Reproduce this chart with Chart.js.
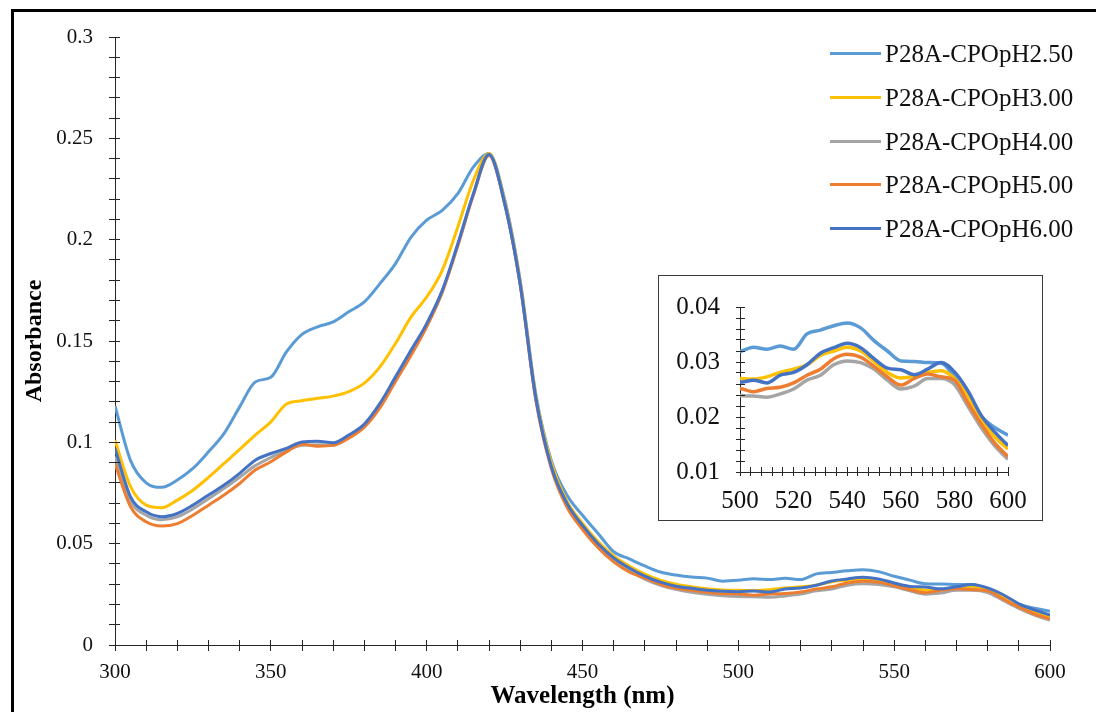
<!DOCTYPE html>
<html>
<head>
<meta charset="utf-8">
<script src="https://cdn.jsdelivr.net/npm/chart.js@4.4.0/dist/chart.umd.min.js"></script>
<style>
  html, body { margin: 0; padding: 0; background: #fff; }
  body { width: 1096px; height: 712px; position: relative; overflow: hidden;
         font-family: "Liberation Serif", "Times New Roman", serif; }
  #frame { position: absolute; left: 11px; top: 9px; width: 1200px; height: 800px;
           border-left: 3px solid #000; border-top: 3px solid #000; }
  #main { position: absolute; left: 0; top: 0; }
  #insetBox { position: absolute; left: 658px; top: 275px; width: 383px; height: 244px;
              border: 1px solid #3a3a3a; background: #fff; }
  #inset { position: absolute; left: 0; top: 0; }
  .row { position: absolute; left: 830px; height: 30px; line-height: 30px; font-size: 25px;
         color: #111; white-space: nowrap; }
  .row i { position: absolute; left: 0; top: 13px; width: 51px; height: 3px; }
  .row span { position: absolute; left: 55px; top: 0; }
</style>
</head>
<body>
<div id="frame"></div>
<canvas id="main" width="1096" height="712"></canvas>
<div id="legend"></div>
<div id="insetBox"><canvas id="inset" width="383" height="244"></canvas></div>
<script>
const waves = [300, 305, 310, 315, 320, 325, 330, 335, 340, 345,
  350, 355, 360, 365, 370, 375, 380, 385, 390, 395,
  400, 405, 410, 415, 420, 425, 430, 435, 440, 445,
  450, 455, 460, 465, 470, 475, 480, 485, 490, 495,
  500, 505, 510, 515, 520, 525, 530, 535, 540, 545,
  550, 555, 560, 565, 570, 575, 580, 585, 590, 595, 600];

const ph250 = [0.118, 0.091, 0.080, 0.0778, 0.0814, 0.0871, 0.0953, 0.1044, 0.1175, 0.1298,
  0.1321, 0.1446, 0.1533, 0.157, 0.1594, 0.1644, 0.1693, 0.1783, 0.1882, 0.2013,
  0.2096, 0.2145, 0.2227, 0.2359, 0.2425, 0.220, 0.180, 0.124, 0.091, 0.074,
  0.064, 0.055, 0.046, 0.0425, 0.039, 0.036, 0.0345, 0.0335, 0.033, 0.0315,
  0.0319, 0.0327, 0.0323, 0.0329, 0.0323, 0.0351, 0.0358, 0.0366, 0.0371, 0.0362,
  0.0339, 0.0320, 0.0302, 0.0301, 0.0299, 0.0298, 0.0273, 0.0239, 0.0201, 0.0181, 0.0167];

const ph300 = [0.101, 0.0781, 0.069, 0.0677, 0.0715, 0.0764, 0.0827, 0.0896, 0.0965, 0.1036,
  0.1101, 0.1189, 0.1205, 0.1218, 0.1228, 0.1250, 0.1292, 0.1372, 0.1488, 0.1619,
  0.1717, 0.1849, 0.2063, 0.2293, 0.2425, 0.219, 0.179, 0.123, 0.090, 0.071,
  0.060, 0.051, 0.044, 0.039, 0.035, 0.032, 0.030, 0.0288, 0.0278, 0.0272,
  0.0270, 0.0269, 0.0273, 0.0281, 0.0287, 0.0295, 0.0312, 0.0320, 0.0327, 0.0320,
  0.0301, 0.0281, 0.0271, 0.0274, 0.0281, 0.0284, 0.0270, 0.0237, 0.0195, 0.0164, 0.0142];

const ph400 = [0.093, 0.071, 0.064, 0.0618, 0.0632, 0.0672, 0.0722, 0.0773, 0.0828, 0.0885,
  0.0925, 0.0962, 0.0985, 0.0988, 0.0985, 0.1025, 0.1082, 0.118, 0.131, 0.144,
  0.158, 0.1745, 0.1975, 0.2225, 0.242, 0.218, 0.178, 0.122, 0.088, 0.069,
  0.058, 0.049, 0.042, 0.037, 0.0325, 0.0295, 0.0275, 0.026, 0.025, 0.0243,
  0.0239, 0.0238, 0.0236, 0.0242, 0.0251, 0.0267, 0.0276, 0.0295, 0.0302, 0.0299,
  0.0287, 0.0267, 0.0251, 0.0256, 0.0270, 0.0270, 0.0259, 0.0220, 0.0181, 0.0148, 0.0123];

const ph500 = [0.0895, 0.0682, 0.0608, 0.0587, 0.0599, 0.0640, 0.069, 0.074, 0.0797, 0.0863,
  0.0904, 0.0953, 0.0991, 0.0981, 0.0985, 0.102, 0.1075, 0.117, 0.130, 0.143,
  0.157, 0.174, 0.197, 0.222, 0.2415, 0.218, 0.178, 0.121, 0.087, 0.068,
  0.057, 0.048, 0.041, 0.036, 0.033, 0.030, 0.028, 0.027, 0.026, 0.0253,
  0.0252, 0.0246, 0.0252, 0.0254, 0.0262, 0.0276, 0.0287, 0.0306, 0.0314, 0.0309,
  0.0292, 0.0273, 0.0258, 0.0270, 0.0278, 0.0273, 0.0267, 0.0226, 0.0187, 0.0153, 0.0128];

const ph600 = [0.097, 0.0731, 0.0657, 0.0633, 0.0649, 0.069, 0.074, 0.0789, 0.0847, 0.0912,
  0.0945, 0.097, 0.1002, 0.1005, 0.0998, 0.1036, 0.109, 0.1192, 0.1323, 0.1455,
  0.1586, 0.175, 0.198, 0.2227, 0.242, 0.218, 0.178, 0.122, 0.088, 0.070,
  0.059, 0.050, 0.043, 0.038, 0.034, 0.031, 0.029, 0.028, 0.027, 0.0265,
  0.0263, 0.0267, 0.0262, 0.0276, 0.0281, 0.0295, 0.0316, 0.0326, 0.0334, 0.0326,
  0.0306, 0.0289, 0.0286, 0.0277, 0.0287, 0.0299, 0.0282, 0.0248, 0.0203, 0.0173, 0.0148];

const seriesNames = ["P28A-CPOpH2.50", "P28A-CPOpH3.00", "P28A-CPOpH4.00", "P28A-CPOpH5.00", "P28A-CPOpH6.00"];
const seriesValues = [ph250, ph300, ph400, ph500, ph600];
const seriesColors = ["#5B9BD5", "#FFC000", "#A5A5A5", "#ED7D31", "#4472C4"];

const axisColor = "#262626";
Chart.defaults.font.family = "'Liberation Serif', 'Times New Roman', serif";
Chart.defaults.color = "#111";

// crossing tick marks: Chart.js draws the outer half, this adds the inner half
const innerTicks = {
  id: "innerTicks",
  afterDraw(chart, args, opts) {
    const { ctx, scales: { x, y } } = chart;
    const align = (p) => Math.round(p - 0.5) + 0.5;
    ctx.save();
    ctx.strokeStyle = axisColor;
    ctx.lineWidth = 1;
    ctx.beginPath();
    for (const t of x.ticks) {
      const px = align(x.getPixelForValue(t.value));
      ctx.moveTo(px, x.top);
      ctx.lineTo(px, x.top - opts.len);
    }
    for (const t of y.ticks) {
      const py = align(y.getPixelForValue(t.value));
      ctx.moveTo(y.right, py);
      ctx.lineTo(y.right + opts.len, py);
    }
    ctx.stroke();
    ctx.restore();
  }
};

function tickLabel(step) {
  return (v) => {
    const k = v / step;
    return Math.abs(k - Math.round(k)) < 1e-6 ? String(+v.toFixed(3)) : "";
  };
}

function makeDatasets(width) {
  return seriesNames.map((name, i) => ({
    label: name,
    data: waves.map((w, j) => ({ x: w, y: seriesValues[i][j] })),
    borderColor: seriesColors[i],
    borderWidth: width,
    pointRadius: 0,
    cubicInterpolationMode: "monotone",
    order: seriesNames.length - i
  }));
}

function axis(opts) {
  return {
    type: "linear",
    min: opts.min,
    max: opts.max,
    border: { color: axisColor, width: 1 },
    grid: { drawOnChartArea: false, color: axisColor, tickLength: opts.tick },
    ticks: {
      stepSize: opts.step, autoSkip: false, maxRotation: 0, minRotation: 0, maxTicksLimit: 200,
      padding: opts.pad, color: "#111", font: { size: opts.font }, callback: tickLabel(opts.label)
    },
    title: opts.title ? {
      display: true, text: opts.title, color: "#000",
      font: { size: opts.titleSize, weight: "bold" }, padding: opts.titlePad
    } : { display: false },
    afterFit: opts.fit
  };
}

new Chart(document.getElementById("main"), {
  type: "line",
  data: { datasets: makeDatasets(3) },
  options: {
    responsive: false,
    animation: false,
    layout: { padding: { left: 0, right: 46, top: 37, bottom: 0 } },
    plugins: { legend: { display: false }, tooltip: { enabled: false }, innerTicks: { len: 5 } },
    scales: {
      x: axis({ min: 300, max: 600, step: 10, label: 50, tick: 6, pad: 9, font: 21,
        title: "Wavelength (nm)", titleSize: 25, titlePad: { top: 0, bottom: 0 },
        fit: (s) => { s.height = 67; } }),
      y: axis({ min: 0, max: 0.3, step: 0.01, label: 0.05, tick: 6, pad: 16, font: 21,
        title: "Absorbance", titleSize: 24, titlePad: { top: 20, bottom: 0 },
        fit: (s) => { s.width = 115; } })
    }
  },
  plugins: [innerTicks]
});

new Chart(document.getElementById("inset"), {
  type: "line",
  data: { datasets: makeDatasets(3.5) },
  options: {
    responsive: false,
    animation: false,
    layout: { padding: { left: 0, right: 34, top: 16, bottom: 0 } },
    plugins: { legend: { display: false }, tooltip: { enabled: false }, innerTicks: { len: 5 } },
    scales: {
      x: axis({ min: 500, max: 600, step: 4, label: 20, tick: 4, pad: 10, font: 25,
        fit: (s) => { s.height = 48; } }),
      y: axis({ min: 0.01, max: 0.04, step: 0.002, label: 0.01, tick: 4, pad: 16, font: 25,
        fit: (s) => { s.width = 81; } })
    }
  },
  plugins: [innerTicks]
});

const legend = document.getElementById("legend");
seriesNames.forEach((name, i) => {
  const row = document.createElement("div");
  row.className = "row";
  row.style.top = (39 + i * 43.75) + "px";
  row.innerHTML = `<i style="background:${seriesColors[i]}"></i><span>${name}</span>`;
  legend.appendChild(row);
});
</script>
</body>
</html>
